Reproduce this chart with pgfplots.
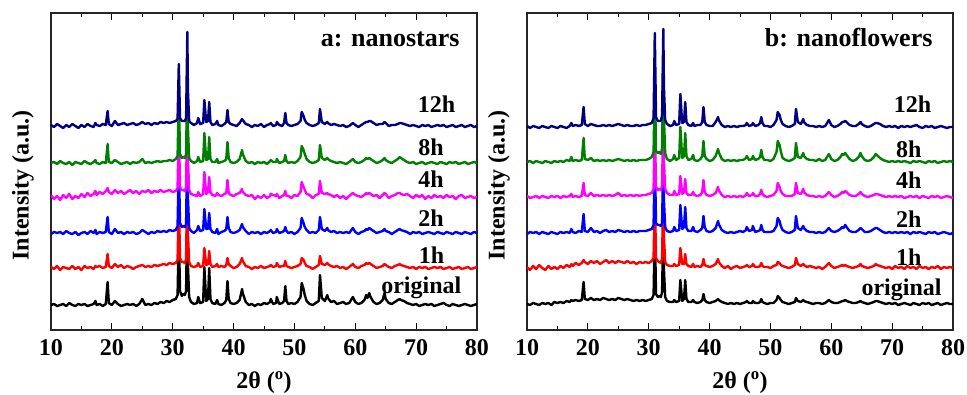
\documentclass[border=0pt]{standalone}
\usepackage{fontspec}
\setmainfont{Liberation Serif}
\usepackage{pgfplots}
\usepackage{pgfplotstable}
\pgfplotsset{compat=1.18}
\definecolor{cnavy}{RGB}{0,0,128}
\definecolor{cgreen}{RGB}{0,128,0}
\definecolor{cmag}{RGB}{255,0,255}
\definecolor{cblue}{RGB}{0,0,255}
\definecolor{cred}{RGB}{255,0,0}
\tikzset{lbl/.style={anchor=base east, font=\fontsize{24}{24}\selectfont\bfseries}}

\pgfplotstableread{
x O H1 H2 H4 H8 H12
10.0 0 1 -1 2 0 1
10.5 1 -1 1 -2 1 -1
11.0 -1 2 0 1 -1 2
11.5 0 -2 1 -3 2 0
12.0 1 1 -1 2 0 -2
12.5 -1 0 2 -1 -1 1
13.0 2 -1 0 3 1 -1
13.5 0 2 -1 -2 -2 2
14.0 -1 -1 1 1 1 0
14.5 1 1 -2 -1 0 -2
15.0 0 -2 0 3 -1 1
15.5 1 2 1 0 2 -1
16.0 -1 0 -1 4 0 2
16.5 0 1 2 1 -1 0
17.0 1 -1 0 3 1 -1
17.3 4 2 3 6 3 3
17.5 0 1 -1 2 0 1
18.0 1 2 1 5 -1 0
18.5 -1 0 0 3 1 2
19.0 1 1 1 6 0 1
19.3 23 14 16 9 19 15
19.5 2 2 1 5 1 2
20.0 0 0 -1 3 0 0
20.5 4 4 4 7 3 5
21.0 1 1 0 4 1 1
21.5 -1 3 1 6 -1 2
22.0 0 0 -1 3 0 3
22.5 1 2 1 5 1 1
23.0 0 1 0 7 -1 2
23.5 1 -1 1 4 1 3
24.0 -1 1 -1 6 0 1
24.5 1 2 0 3 1 2
25.0 6 3 3 6 4 4
25.5 0 1 1 5 0 2
26.0 1 2 -1 7 1 3
26.5 0 1 1 4 0 1
27.0 2 3 0 6 1 3
27.5 1 2 2 5 2 2
28.0 3 3 1 7 1 4
28.5 2 4 2 5 2 3
29.0 4 3 1 6 2 4
29.5 3 5 3 7 3 3
30.0 5 4 2 5 2 4
30.5 6 5 3 6 4 5
30.8 10 8 7 9 7 7
31.0 75 70 72 72 68 62
31.2 14 10 10 10 9 8
31.5 9 6 6 7 5 5
31.7 11 6 7 7 6 5
32.0 10 5 6 6 5 5
32.2 14 9 9 10 9 8
32.4 100 95 96 96 92 94
32.5 40 35 36 38 35 36
32.7 8 6 5 7 5 5
33.0 3 2 2 3 2 3
33.5 1 1 0 2 0 1
34.0 2 2 3 1 2 3
34.2 8 5 7 5 6 8
34.5 2 1 2 1 1 2
35.0 3 2 3 3 2 3
35.2 38 20 24 25 30 26
35.5 4 3 4 3 3 4
35.8 6 4 4 5 4 5
36.0 37 17 20 20 26 24
36.2 6 4 4 5 4 4
36.5 2 1 1 2 1 1
37.0 1 2 0 1 1 2
37.3 5 4 4 4 4 5
37.5 1 1 -1 2 0 1
38.0 0 2 1 1 1 0
38.5 2 1 2 3 2 2
38.8 5 3 4 4 4 4
39.0 24 10 16 17 21 16
39.2 6 4 5 4 5 4
39.5 2 2 1 2 1 2
40.0 1 0 0 1 0 1
40.5 2 1 1 3 1 0
41.0 5 4 3 4 4 3
41.4 16 10 9 8 13 7
41.5 12 7 6 5 9 6
42.0 3 2 2 2 2 2
42.5 0 1 -1 1 0 1
43.0 1 -1 1 2 1 -1
43.5 -1 1 0 -2 -1 1
44.0 1 0 1 1 1 0
44.5 0 2 -1 -1 0 2
45.0 2 0 1 2 1 -1
45.5 1 1 0 -1 -1 1
46.0 3 2 2 1 2 2
46.1 6 3 3 3 3 3
46.5 1 1 0 2 1 0
47.0 2 2 1 1 1 1
47.1 8 5 4 3 4 4
47.5 1 1 0 -1 0 1
48.0 2 2 1 1 1 0
48.3 4 2 2 2 2 3
48.5 19 7 6 6 8 13
48.7 4 2 2 1 2 3
49.0 1 1 0 1 0 1
49.5 2 0 1 -1 1 0
50.0 1 1 -1 2 0 1
50.5 3 2 1 1 2 2
51.0 8 4 5 5 6 5
51.2 22 10 15 15 17 14
51.5 16 8 10 10 13 10
51.7 10 5 6 7 9 6
52.0 4 2 3 3 4 3
52.5 1 1 0 2 1 1
53.0 0 -1 1 -1 0 0
53.5 2 1 0 2 1 1
54.0 4 3 3 3 3 3
54.2 30 12 16 16 18 17
54.5 7 4 4 4 5 4
55.0 4 3 2 3 3 2
55.4 10 5 5 4 5 4
55.5 7 4 3 3 4 3
56.0 3 2 1 2 2 1
56.5 4 1 2 0 1 2
57.0 1 2 0 2 0 1
57.5 2 0 1 -1 1 0
58.0 3 1 0 1 0 1
58.5 1 -1 1 -2 -1 -1
59.0 2 1 0 1 1 0
59.6 8 4 5 4 4 3
60.0 3 1 1 2 1 1
60.5 1 0 -1 1 0 -1
61.0 2 2 1 0 1 1
61.5 5 3 2 2 3 3
61.8 10 5 4 4 5 4
62.0 7 4 3 3 4 4
62.3 12 5 5 4 5 5
62.5 8 4 4 3 4 5
63.0 3 2 2 1 2 3
63.5 1 0 0 2 0 1
64.0 2 1 1 -1 1 2
64.5 5 2 2 2 3 2
64.8 12 4 4 4 5 4
65.0 6 3 2 3 3 3
65.5 2 1 1 -1 1 0
66.0 1 0 -1 1 0 1
66.5 3 2 1 2 2 1
67.0 5 3 3 4 4 2
67.3 6 4 4 4 6 3
67.5 5 3 3 3 5 3
68.0 4 2 2 2 3 2
68.5 2 1 1 3 1 1
69.0 1 0 -1 1 0 0
69.5 0 1 1 -1 1 1
70.0 1 -1 0 2 -1 0
70.5 -1 1 1 0 0 -1
71.0 0 0 -1 2 1 1
71.5 1 1 0 -2 -1 0
72.0 0 -1 1 1 0 1
72.5 1 0 0 -1 1 -1
73.0 -1 1 -1 2 0 0
73.5 0 0 1 0 -1 1
74.0 1 1 0 1 1 0
74.5 2 -1 -1 -1 0 1
75.0 0 0 1 2 -1 -1
75.5 -1 1 0 0 1 0
76.0 1 -1 -1 1 0 1
76.5 0 0 1 -2 1 -1
77.0 -1 1 0 1 -1 0
77.5 0 -1 -1 2 0 1
78.0 1 0 1 -1 1 -1
78.5 0 1 0 0 -1 0
79.0 -1 -1 -1 1 0 1
79.5 0 0 1 -1 1 -1
80.0 1 1 0 0 0 0
}\tabA

\pgfplotstableread{
x O H1 H2 H4 H8 H12
10.0 0 1 -1 1 0 1
10.5 -1 -2 1 -1 1 -1
11.0 1 2 0 0 -1 1
11.5 0 -1 1 1 1 0
12.0 -1 3 -1 -1 0 -1
12.5 1 0 1 1 -1 1
13.0 0 -2 0 0 1 0
13.5 1 2 -1 -1 0 -1
14.0 -1 -1 1 1 -1 1
14.5 2 1 0 0 1 0
15.0 1 -1 -1 1 0 -1
15.5 2 2 1 -1 1 1
16.0 1 0 0 1 0 0
16.5 3 3 1 0 2 -1
17.0 2 1 0 1 1 1
17.3 4 4 4 3 5 4
17.5 3 2 1 0 1 1
18.0 4 5 0 1 2 2
18.5 3 3 2 0 1 1
19.0 4 5 1 1 2 2
19.3 22 8 19 14 24 20
19.5 5 6 2 2 3 3
20.0 4 4 1 1 2 1
20.5 6 7 5 4 4 3
21.0 4 5 1 1 1 2
21.5 5 7 2 2 2 1
22.0 4 4 0 1 1 1
22.5 6 6 2 2 2 2
23.0 5 8 3 1 1 1
23.5 4 5 1 2 2 2
24.0 5 7 2 1 1 1
24.5 4 5 1 2 2 2
25.0 6 7 3 4 3 3
25.5 5 6 2 1 2 2
26.0 4 5 1 2 1 1
26.5 5 7 2 1 2 2
27.0 4 5 1 2 1 1
27.5 3 6 2 1 2 1
28.0 4 4 1 2 1 2
28.5 3 6 2 1 2 1
29.0 4 5 2 2 2 2
29.5 3 6 2 2 2 2
30.0 4 5 3 3 3 3
30.5 5 7 4 4 5 4
30.8 9 10 8 8 10 9
31.0 80 75 78 72 85 94
31.2 10 10 10 10 11 10
31.5 7 7 8 7 9 6
31.7 8 6 8 8 10 6
32.0 7 5 7 7 8 6
32.2 12 10 10 12 14 12
32.4 85 82 80 86 105 98
32.5 35 32 33 36 45 40
32.7 7 6 6 8 9 7
33.0 3 3 2 4 3 3
33.5 2 2 1 2 1 1
34.0 2 2 2 2 3 2
34.2 4 4 6 6 7 6
34.5 2 2 2 2 2 2
35.0 3 3 3 3 4 3
35.2 24 20 28 21 35 33
35.5 3 4 4 3 4 4
35.8 5 4 6 5 6 5
36.0 24 14 26 18 29 25
36.2 5 4 5 4 6 5
36.5 2 2 2 2 2 2
37.0 2 1 2 2 3 1
37.3 4 4 6 5 7 4
37.5 2 1 2 2 2 1
38.0 1 2 1 1 1 2
38.5 2 1 3 2 3 2
38.8 4 3 5 5 6 5
39.0 10 9 17 17 21 20
39.2 4 3 6 5 6 5
39.5 2 2 2 2 3 2
40.0 1 1 1 1 1 1
40.5 2 2 2 2 2 1
41.0 3 4 5 4 6 5
41.4 5 9 12 10 13 10
41.5 4 6 9 7 10 7
42.0 2 2 3 2 3 2
42.5 1 0 1 0 1 0
43.0 0 2 0 1 2 1
43.5 1 -1 1 0 1 0
44.0 0 1 0 1 2 1
44.5 1 2 1 0 1 0
45.0 0 0 2 1 2 1
45.5 1 1 1 0 2 1
46.0 2 2 3 2 4 2
46.1 3 3 6 4 6 4
46.5 1 1 2 1 2 1
47.0 1 2 3 2 3 2
47.1 3 4 7 4 6 4
47.5 1 1 1 1 2 1
48.0 1 1 2 1 3 2
48.3 2 2 3 3 5 4
48.5 5 5 8 7 12 10
48.7 2 2 3 3 5 4
49.0 1 1 1 1 2 1
49.5 0 1 1 0 2 1
50.0 1 0 1 1 1 0
50.5 1 2 2 2 3 2
51.0 4 3 7 6 10 7
51.2 8 6 15 14 21 15
51.5 6 5 12 10 17 12
51.7 4 3 7 6 11 7
52.0 2 2 3 3 4 3
52.5 1 1 1 1 2 1
53.0 0 0 0 1 1 0
53.5 1 1 1 1 2 1
54.0 2 3 3 3 4 3
54.2 6 10 17 14 19 18
54.5 3 4 5 4 5 5
55.0 2 2 3 3 4 3
55.4 4 4 7 8 9 8
55.5 3 3 5 5 6 5
56.0 2 1 2 2 3 2
56.5 1 2 1 1 2 1
57.0 0 1 1 1 2 1
57.5 1 0 0 0 1 0
58.0 1 1 1 1 3 1
58.5 0 -1 0 0 1 0
59.0 1 1 1 1 2 1
59.6 4 5 5 5 8 7
60.0 2 2 2 2 3 2
60.5 1 0 1 0 1 0
61.0 1 1 2 1 2 1
61.5 2 2 4 3 5 3
61.8 3 3 6 5 8 5
62.0 3 2 5 4 7 5
62.3 4 3 8 6 9 6
62.5 3 2 6 5 7 5
63.0 2 1 2 2 3 2
63.5 1 0 1 1 1 1
64.0 1 1 1 1 2 1
64.5 2 2 3 3 5 3
64.8 3 4 5 5 9 5
65.0 2 2 4 3 6 3
65.5 1 1 1 1 2 1
66.0 0 0 1 0 1 0
66.5 1 1 2 1 2 1
67.0 2 2 4 2 5 3
67.3 3 4 5 3 8 4
67.5 3 3 5 3 7 4
68.0 2 2 3 2 4 3
68.5 1 1 1 1 2 1
69.0 0 0 0 0 1 0
69.5 1 1 1 1 0 1
70.0 0 -1 0 0 1 0
70.5 1 2 1 1 0 1
71.0 -1 0 0 0 1 -1
71.5 0 1 1 1 0 1
72.0 1 -1 0 -1 1 0
72.5 0 2 1 0 0 1
73.0 -1 0 -1 1 -1 0
73.5 1 1 1 0 1 1
74.0 0 -1 0 1 0 2
74.5 -1 2 1 -1 1 0
75.0 1 0 0 1 0 -1
75.5 0 1 -1 0 -1 1
76.0 1 -1 1 -1 1 0
76.5 -1 1 0 1 0 1
77.0 0 0 1 0 1 -1
77.5 1 2 -1 1 -1 0
78.0 -1 -1 0 -1 0 1
78.5 0 1 1 0 1 0
79.0 1 0 0 1 0 -1
79.5 0 1 -1 0 1 0
80.0 0 0 0 -1 0 0
}\tabB

\pgfplotsset{
  xrdaxis/.style={
    scale only axis, width=426pt, height=317pt,
    anchor=south west,
    xmin=10, xmax=80, ymin=0, ymax=317,
    xtick={10,20,...,80}, minor xtick={15,25,...,75},
    ytick=\empty, minor ytick={17,37,...,297},
    tick align=inside,
    major tick length=7pt, minor tick length=4pt,
    every tick/.style={black, line width=0.9pt},
    axis line style={line width=1.1pt, black!85},
    tick label style={font=\fontsize{24}{24}\selectfont\bfseries},
    /pgf/number format/assume math mode=true,
    xticklabel style={yshift=-6pt},
    xlabel={2θ (\textsuperscript{o})},
    ylabel={Intensity (a.u.)},
    label style={font=\fontsize{24}{24}\selectfont\bfseries},
    xlabel style={at={(axis description cs:0.5,0)}, anchor=center, yshift=-53pt},
    ylabel style={at={(axis description cs:0,0.456)}, anchor=center, yshift=28pt},
    every axis plot/.append style={line width=2.4pt, line join=round},
  }
}

\begin{document}
\begin{tikzpicture}
\path[use as bounding box] (0,0) rectangle (967pt,394pt);
\begin{axis}[xrdaxis, at={(51pt,64pt)}]
\addplot[black] table[x=x, y expr=\thisrow{O}+25] {\tabA};
\addplot[cred] table[x=x, y expr=\thisrow{H1}+62] {\tabA};
\addplot[cblue] table[x=x, y expr=\thisrow{H2}+97] {\tabA};
\addplot[cmag] table[x=x, y expr=\thisrow{H4}+133] {\tabA};
\addplot[cgreen] table[x=x, y expr=\thisrow{H8}+167] {\tabA};
\addplot[cnavy] table[x=x, y expr=\thisrow{H12}+204] {\tabA};
\node[anchor=base east, font=\fontsize{26}{26}\selectfont\bfseries] at (axis cs:77.7,283) {a: nanostars};
\node[lbl] at (axis cs:77.0,218) {12h};
\node[lbl] at (axis cs:75.1,175) {8h};
\node[lbl] at (axis cs:75.1,143) {4h};
\node[lbl] at (axis cs:75.1,104) {2h};
\node[lbl] at (axis cs:75.2,67) {1h};
\node[lbl] at (axis cs:78.0,37) {original};
\end{axis}
\begin{axis}[xrdaxis, at={(527pt,64pt)}]
\addplot[black] table[x=x, y expr=\thisrow{O}+26] {\tabB};
\addplot[cred] table[x=x, y expr=\thisrow{H1}+62] {\tabB};
\addplot[cblue] table[x=x, y expr=\thisrow{H2}+97] {\tabB};
\addplot[cmag] table[x=x, y expr=\thisrow{H4}+133] {\tabB};
\addplot[cgreen] table[x=x, y expr=\thisrow{H8}+168] {\tabB};
\addplot[cnavy] table[x=x, y expr=\thisrow{H12}+203] {\tabB};
\node[anchor=base east, font=\fontsize{26}{26}\selectfont\bfseries] at (axis cs:77.2,283) {b: nanoflowers};
\node[lbl] at (axis cs:77.0,217) {12h};
\node[lbl] at (axis cs:75.4,173) {8h};
\node[lbl] at (axis cs:75.4,142) {4h};
\node[lbl] at (axis cs:75.4,103) {2h};
\node[lbl] at (axis cs:75.4,65) {1h};
\node[lbl] at (axis cs:78.7,35) {original};
\end{axis}
\end{tikzpicture}
\end{document}
